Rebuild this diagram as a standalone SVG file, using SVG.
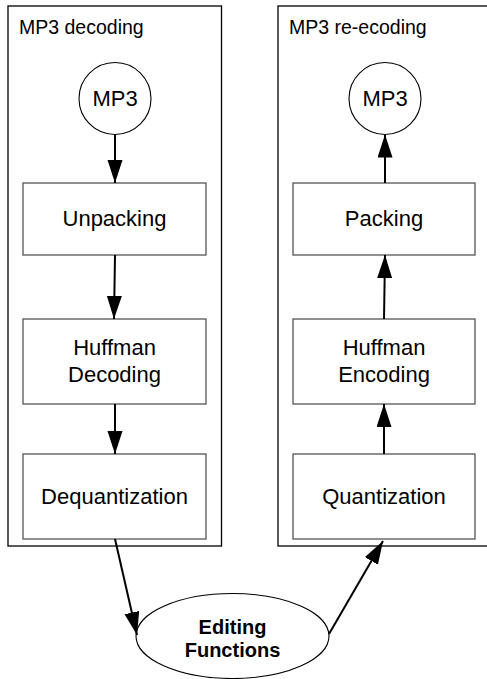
<svg xmlns="http://www.w3.org/2000/svg" width="487" height="679" viewBox="0 0 487 679">
<style>
  .container { fill: #ffffff; stroke: #000000; stroke-width: 1.3; }
  .box { fill: #ffffff; stroke: #555555; stroke-width: 1.3; }
  .node { fill: #ffffff; stroke: #000000; stroke-width: 1.1; }
  .title { font-family: "Liberation Sans", Arial, sans-serif; font-size: 19.5px; fill: #000000; }
  .label { font-family: "Liberation Sans", Arial, sans-serif; font-size: 22px; fill: #000000; text-anchor: middle; }
  .bold { font-family: "Liberation Sans", Arial, sans-serif; font-size: 20px; font-weight: bold; fill: #000000; text-anchor: middle; }
  .edge { fill: none; stroke: #000000; stroke-width: 2; marker-end: url(#arrow); }
</style>
<defs>
  <marker id="arrow" markerUnits="userSpaceOnUse" markerWidth="24" markerHeight="16" refX="23" refY="7.5" orient="auto">
    <path d="M0,0 L23,7.5 L0,15 Z" fill="#000000"/>
  </marker>
</defs>
<rect width="487" height="679" fill="#ffffff"/>
<g id="decoding-container">
  <rect class="container" x="8" y="6" width="213.5" height="540"/>
  <text class="title" x="19" y="34">MP3 decoding</text>
</g>
<g id="reencoding-container">
  <rect class="container" x="278" y="6" width="215" height="540"/>
  <text class="title" x="289" y="34">MP3 re-ecoding</text>
</g>
<g id="mp3-in">
  <circle class="node" cx="115" cy="98.5" r="36"/>
  <text class="label" x="115" y="106">MP3</text>
</g>
<g id="unpacking">
  <rect class="box" x="23" y="183" width="183" height="72"/>
  <text class="label" x="114.5" y="226">Unpacking</text>
</g>
<g id="huffman-decoding">
  <rect class="box" x="23" y="319" width="183" height="85"/>
  <text class="label" x="114.5" y="355">Huffman</text>
  <text class="label" x="114.5" y="381.5">Decoding</text>
</g>
<g id="dequantization">
  <rect class="box" x="23" y="454" width="183" height="85"/>
  <text class="label" x="114.5" y="504">Dequantization</text>
</g>
<g id="mp3-out">
  <circle class="node" cx="385" cy="98.5" r="36"/>
  <text class="label" x="385" y="106">MP3</text>
</g>
<g id="packing">
  <rect class="box" x="293" y="183" width="182" height="72"/>
  <text class="label" x="384" y="226">Packing</text>
</g>
<g id="huffman-encoding">
  <rect class="box" x="293" y="319" width="182" height="85"/>
  <text class="label" x="384" y="355">Huffman</text>
  <text class="label" x="384" y="381.5">Encoding</text>
</g>
<g id="quantization">
  <rect class="box" x="293" y="454" width="182" height="85"/>
  <text class="label" x="384" y="504">Quantization</text>
</g>
<g id="editing-functions">
  <ellipse class="node" cx="232.5" cy="636" rx="96.5" ry="42.5"/>
  <text class="bold" x="232.5" y="633.5">Editing</text>
  <text class="bold" x="232.5" y="656.5">Functions</text>
</g>
<g id="connectors">
  <line class="edge" x1="115" y1="134.5" x2="115" y2="183"/>
  <line class="edge" x1="115" y1="255" x2="114" y2="319"/>
  <line class="edge" x1="115" y1="404" x2="115" y2="454"/>
  <line class="edge" x1="385" y1="183" x2="385" y2="134.5"/>
  <line class="edge" x1="384" y1="319" x2="385" y2="255"/>
  <line class="edge" x1="384" y1="454" x2="384" y2="404"/>
  <line class="edge" x1="115" y1="539" x2="137" y2="635"/>
  <line class="edge" x1="329" y1="634" x2="383" y2="541"/>
</g>
</svg>
